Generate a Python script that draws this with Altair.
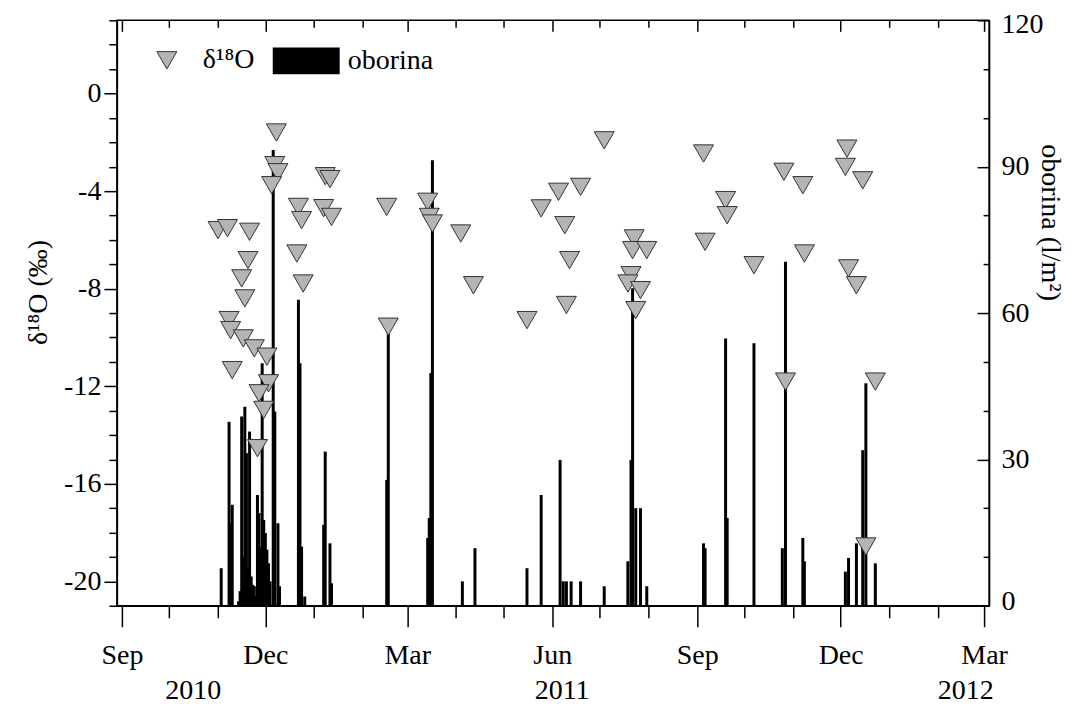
import altair as alt
import pandas as pd

# ---------------- data ----------------
d18o_dates = [
    "2010-11-01", "2010-11-07", "2010-11-21", "2010-11-20", "2010-11-16", "2010-11-18",
    "2010-11-08", "2010-11-09", "2010-11-17", "2010-11-24", "2010-12-02", "2010-11-10",
    "2010-12-03", "2010-11-27", "2010-11-30", "2010-11-26",
    "2010-12-08", "2010-12-07", "2010-12-09", "2010-12-05",
    "2010-12-22", "2010-12-24", "2010-12-21", "2010-12-25",
    "2011-01-08", "2011-01-11", "2011-01-07", "2011-01-12",
    "2011-02-16", "2011-02-17", "2011-03-14", "2011-03-15", "2011-03-17",
    "2011-04-04", "2011-04-12",
    "2011-05-16", "2011-05-25", "2011-06-05", "2011-06-19", "2011-06-09", "2011-06-12", "2011-06-10",
    "2011-07-04", "2011-07-23", "2011-07-22", "2011-07-31", "2011-07-21", "2011-07-19", "2011-07-27", "2011-07-24",
    "2011-09-05", "2011-09-19", "2011-09-20", "2011-09-06", "2011-10-07",
    "2011-10-26", "2011-11-07", "2011-11-08", "2011-10-27",
    "2011-12-05", "2011-12-04", "2011-12-15", "2011-12-06", "2011-12-11", "2011-12-17", "2011-12-23",
]
d18o_values = [
    -5.60, -5.52, -5.67, -6.83, -7.58, -8.40,
    -9.29, -9.70, -10.04, -10.45, -10.79, -11.34,
    -11.88, -12.29, -12.97, -14.54,
    -1.60, -2.94, -3.23, -3.76,
    -4.65, -5.19, -6.56, -7.79,
    -3.39, -3.51, -4.70, -5.06,
    -4.65, -9.56, -4.44, -5.06, -5.33,
    -5.74, -7.86,
    -9.29, -4.71, -4.03, -3.83, -5.40, -6.83, -8.67,
    -1.92, -5.94, -6.42, -6.42, -7.45, -7.79, -8.06, -8.88,
    -2.46, -4.37, -4.99, -6.08, -7.04,
    -3.21, -3.76, -6.56, -11.81,
    -2.26, -3.01, -3.56, -7.17, -7.86, -18.57, -11.81,
]

rain_dates = [
    "2010-11-03", "2010-11-08", "2010-11-09", "2010-11-10", "2010-11-14", "2010-11-15",
    "2010-11-16", "2010-11-17", "2010-11-18", "2010-11-19", "2010-11-20", "2010-11-21",
    "2010-11-22", "2010-11-23", "2010-11-24", "2010-11-25", "2010-11-26", "2010-11-27",
    "2010-11-28", "2010-11-29", "2010-11-30", "2010-12-01", "2010-12-02", "2010-12-03",
    "2010-12-04", "2010-12-06", "2010-12-07", "2010-12-09", "2010-12-10",
    "2010-12-22", "2010-12-23", "2010-12-24", "2010-12-26",
    "2011-01-07", "2011-01-08", "2011-01-11", "2011-01-12",
    "2011-02-16", "2011-02-17", "2011-03-14", "2011-03-15", "2011-03-16", "2011-03-17",
    "2011-04-05", "2011-04-13", "2011-05-16", "2011-05-25",
    "2011-06-06", "2011-06-08", "2011-06-10", "2011-06-13", "2011-06-19",
    "2011-07-04", "2011-07-19", "2011-07-21", "2011-07-22", "2011-07-24", "2011-07-27", "2011-07-31",
    "2011-09-05", "2011-09-06", "2011-09-19", "2011-09-20", "2011-10-07",
    "2011-10-25", "2011-10-27", "2011-11-07", "2011-11-08",
    "2011-12-04", "2011-12-06", "2011-12-11", "2011-12-15", "2011-12-17", "2011-12-23",
]
rain_values = [
    7.7, 37.7, 16.9, 20.7, 0.9, 3.0,
    38.8, 10.0, 40.8, 31.3, 8.0, 35.7,
    6.0, 4.3, 4.0, 2.0, 22.7, 19.0,
    12.0, 49.7, 17.6, 14.9, 11.5, 8.7,
    5.0, 93.4, 39.8, 16.9, 4.0,
    62.7, 49.7, 12.1, 1.9,
    16.6, 31.6, 12.8, 4.6,
    25.8, 55.8, 13.9, 18.0, 47.7, 91.3,
    5.0, 11.8, 7.7, 22.7,
    29.9, 5.0, 5.0, 5.0, 5.0,
    4.0, 9.1, 29.9, 65.1, 20.0, 20.0, 4.0,
    12.8, 11.8, 54.8, 18.0, 53.8,
    11.8, 70.5, 13.9, 9.1,
    7.0, 9.8, 12.8, 31.9, 45.6, 8.7,
]

month_ticks = [
    "2010-09-01", "2010-10-01", "2010-11-01", "2010-12-01", "2011-01-01", "2011-02-01",
    "2011-03-01", "2011-04-01", "2011-05-01", "2011-06-01", "2011-07-01", "2011-08-01",
    "2011-09-01", "2011-10-01", "2011-11-01", "2011-12-01", "2012-01-01", "2012-02-01",
    "2012-03-01",
]
year_label_dates = ["2010-10-16", "2011-06-07", "2012-02-18"]
d18o_ticks = list(range(-21, 4))
rain_ticks = [0, 30, 60, 90, 120]
rain_minor_ticks = list(range(0, 121, 10))

series_pts = "δ¹⁸O"
series_bar = "oborina"

# ---------------- build ----------------
def dt(s):
    y, m, d = (int(v) for v in s.split("-"))
    return alt.DateTime(year=y, month=m, date=d, utc=True)

df_pts = pd.DataFrame({"date": d18o_dates, "d18o": d18o_values, "series": series_pts})
df_rain = pd.DataFrame({"date": rain_dates, "rain": rain_values, "series": series_bar})

FONT = "Liberation Serif"
W, H = 873, 586
TRI_FILL = "#b4b4b4"
TRI_STROKE = "#333333"

xscale = alt.Scale(type="utc", domain=[dt(month_ticks[0]), dt(month_ticks[-1])])
major_x = "utcmonth(datum.value) % 3 === 2"

x_main = alt.Axis(
    orient="bottom", values=[dt(s) for s in month_ticks], title=None, grid=False,
    labelExpr=f"{major_x} ? utcFormat(datum.value, '%b') : ''",
    tickSize={"condition": {"test": major_x, "value": 21}, "value": 12},
    labelPadding=15, labelFlush=False, labelOverlap=False,
)
x_top = alt.Axis(
    orient="bottom", offset=-H, values=[dt(s) for s in month_ticks], title=None, grid=False,
    labels=False, domain=False,
    tickSize={"condition": {"test": major_x, "value": 11}, "value": 7},
)
x_year = alt.Axis(
    orient="bottom", values=[dt(s) for s in year_label_dates], title=None, grid=False,
    format="%Y", ticks=False, domain=False, labelPadding=71, labelFlush=False, labelOverlap=False,
)

y_left = alt.Axis(
    orient="left", values=d18o_ticks, grid=False, title="δ¹⁸O (‰)",
    titleX=-78, titleY=272, titleAlign="center", titleBaseline="middle",
    labelExpr="datum.value % 4 === 0 ? ((datum.value < 0 ? '-' : '') + abs(datum.value)) : ''",
    tickSize={"condition": {"test": "datum.value % 4 === 0", "value": 13}, "value": 8},
    labelPadding=3, labelOverlap=False,
)
y_right = alt.Axis(
    orient="right", values=rain_ticks, grid=False, title="oborina (l/m²)", titleAngle=90,
    titleX=60, titleY=202, titleAlign="center", titleBaseline="middle",
    ticks=False, labelPadding=12, labelOverlap=False,
    labelFlush=True, labelFlushOffset=10,
)
y_right_in = alt.Axis(
    orient="left", offset=-W, values=rain_minor_ticks, grid=False, title=None, labels=False,
    domain=False,
    tickSize={"condition": {"test": "datum.value % 30 === 0", "value": 12}, "value": 6},
)

bars = alt.Chart(df_rain).mark_bar(width=3).encode(
    x=alt.X("date:T", scale=xscale, axis=x_top),
    y=alt.Y("rain:Q", scale=alt.Scale(domain=[0, 120], nice=False, zero=True), axis=y_right),
    color=alt.Color(
        "series:N",
        scale=alt.Scale(domain=[series_bar], range=["black"]),
        legend=alt.Legend(
            orient="none", legendX=156, legendY=7, title=None, padding=0,
            symbolType="M-1,-0.4L1,-0.4L1,0.4L-1,0.4Z", symbolSize=4489,
            symbolStrokeWidth=0, labelOffset=8, labelFontSize=28, labelFont=FONT,
            labelColor="black",
        ),
    ),
)

pts_legend = alt.Legend(
    orient="none", legendX=36, legendY=26, title=None, padding=0,
    symbolSize=400, symbolFillColor=TRI_FILL, symbolStrokeWidth=1,
    labelOffset=22, labelFontSize=28, labelFont=FONT, labelColor="black",
)

pts = alt.Chart(df_pts).mark_point(
    filled=True, fill=TRI_FILL, strokeWidth=1, size=400, opacity=1
).encode(
    x=alt.X("date:T", scale=xscale, axis=x_main),
    y=alt.Y("d18o:Q", scale=alt.Scale(domain=[-21, 3], nice=False, zero=False), axis=y_left),
    shape=alt.Shape(
        "series:N",
        scale=alt.Scale(domain=[series_pts], range=["triangle-down"]),
        legend=pts_legend,
    ),
    stroke=alt.Stroke(
        "series:N",
        scale=alt.Scale(domain=[series_pts], range=[TRI_STROKE]),
        legend=pts_legend,
    ),
)

helper = alt.Chart(df_rain).mark_point(opacity=0).encode(
    x=alt.X("date:T", scale=xscale, axis=x_year),
    y=alt.Y("rain:Q", scale=alt.Scale(domain=[0, 120], nice=False, zero=True), axis=y_right_in),
)

chart = (
    alt.layer(bars, pts, helper)
    .resolve_scale(y="independent")
    .resolve_axis(x="independent", y="independent")
    .properties(
        width=W, height=H, autosize="none",
        padding={"left": 109, "top": 12, "right": 90, "bottom": 100},
        background="white",
    )
    .configure(font=FONT)
    .configure_view(stroke="black", strokeWidth=1.5)
    .configure_axis(
        labelFont=FONT, titleFont=FONT, labelFontSize=28, titleFontSize=28,
        titleFontWeight="normal", labelColor="black", titleColor="black",
        domainColor="black", tickColor="black", domainWidth=1.5, tickWidth=1.5,
    )
)

chart.save("out.html", embed_options={"renderer": "svg", "actions": False})
